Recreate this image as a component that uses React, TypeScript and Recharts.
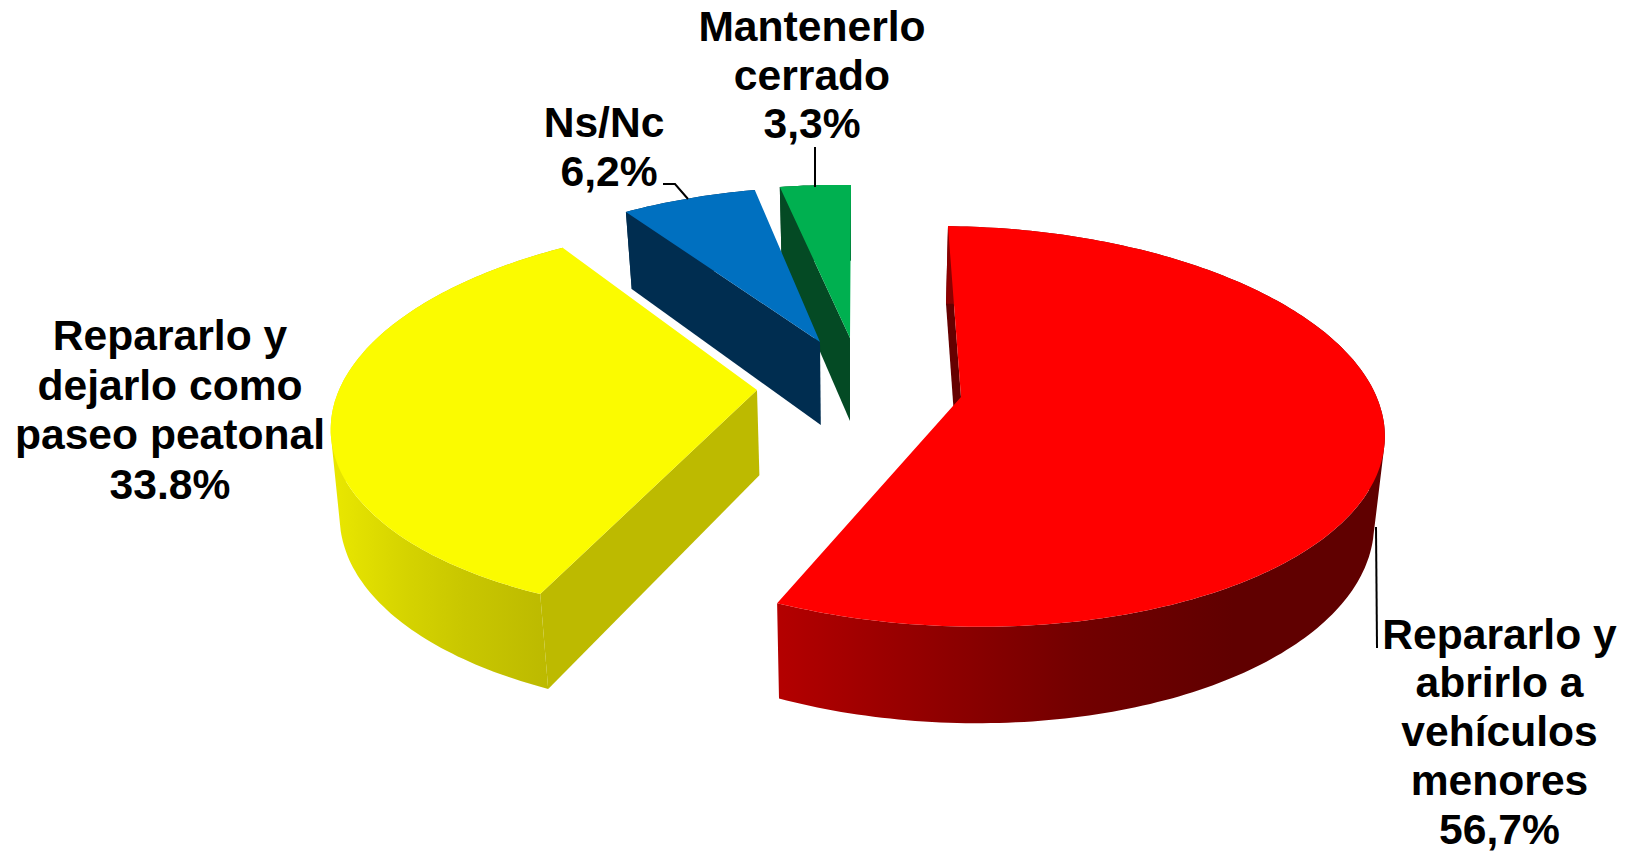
import React from "react";
import { PieChart, Pie } from "recharts";

// Slices run counter-clockwise from 12 o'clock, so that the paint order is green, blue, yellow, red.
const categories = ["Mantenerlo cerrado", "Ns/Nc", "Repararlo y dejarlo como paseo peatonal", "Repararlo y abrirlo a vehículos menores"];
const values = [3.3, 6.2, 33.8, 56.7];
const labelLines = [
  ["Mantenerlo", "cerrado", "3,3%"],
  ["Ns/Nc", "6,2%"],
  ["Repararlo y", "dejarlo como", "paseo peatonal", "33.8%"],
  ["Repararlo y", "abrirlo a", "vehículos", "menores", "56,7%"],
];
const faceColors = ["#00B050", "#0070C0", "#FBFB00", "#FF0000"];
const edgeColors = ["#044A24", "#002D50", "#BDBA00", "#650000"];
const wallStops: [number, string][][] = [
  [[0, "#044A24"], [1, "#044A24"]],
  [[0, "#002D50"], [1, "#002D50"]],
  [[0, "#EAE800"], [0.3, "#D6D400"], [0.55, "#C9C700"], [1, "#B9B600"]],
  [[0, "#B40000"], [0.2, "#980000"], [0.5, "#720000"], [0.75, "#600000"], [1, "#600000"]],
];

const W = 1627;
const H = 853;
const CX = 850;
const CY = 400;
const R = 420;
// apex offset from the pie centre (each exploded slice has its own)
const apexDX = [0, -30, -93, 111];
const apexDY = [-62, -58, -10, -3];
// disc-to-screen projection of every slice, in radius units
const persp = [
  { a: 395, b: -1.15, c: 3.7, d: 175.5 },
  { a: 396, b: -7.2, c: -3.9, d: 178.2 },
  { a: 414.1, b: -19.3, c: -0.7, d: 192.4 },
  { a: 421, b: 14.9, c: 3, d: 196 },
];
const PU = 0.01;
const PV = -0.147;
const DEPTH = 85.8;
const DEPTH_SLOPE = 0.047;
const CONVERGE_LEFT = 0.026;
const CONVERGE_LEFT_MAX = 9;
const CONVERGE_RIGHT = 0.02;
const labelAnchorX = [812, 604, 170, 1499.5];
const lineNudgeX = [[0, 0, 0], [0, 5], [0, 0, 0, 0], [0, 0, 0, 0, 0]];
const labelBaseY = [41, 136.5, 350, 648.5];
const labelLead = [48.5, 49.5, 49.5, 48.8];
const leaderPoints = ["815,147 815,187", "663,184 675,184 688,199", "", "1376,527 1377,648"];

const rows = categories.map((name, i) => ({ name, value: values[i], fill: faceColors[i], slice: i }));

type P = [number, number];
const project = (i: number, cx: number, cy: number, r: number, deg: number): P => {
  const t = (deg * Math.PI) / 180;
  const u = Math.cos(t);
  const v = -Math.sin(t);
  const w = 1 + PU * u + PV * v;
  const m = persp[i];
  const k = r / R;
  return [cx + apexDX[i] + (k * (m.a * u + m.b * v)) / w, cy + apexDY[i] + (k * (m.c * u + m.d * v)) / w];
};
const drop = (p: P, cx: number, cy: number): P => [
  p[0] + (p[0] < cx ? Math.min((cx - p[0]) * CONVERGE_LEFT, CONVERGE_LEFT_MAX) : (cx - p[0]) * CONVERGE_RIGHT),
  p[1] + DEPTH + DEPTH_SLOPE * (p[1] - cy),
];
const toPath = (pts: P[]) => "M" + pts.map((p) => p[0].toFixed(1) + " " + p[1].toFixed(1)).join("L") + "Z";
const signedArea = (q: P[]) =>
  q.reduce((s, p, k) => {
    const n = q[(k + 1) % q.length];
    return s + p[0] * n[1] - n[0] * p[1];
  }, 0);

const SliceShape = (props: any) => {
  const { cx, cy, outerRadius, startAngle, endAngle, payload, fill } = props;
  const i: number = payload?.slice ?? props.slice ?? 0;
  const n = Math.max(2, Math.ceil(Math.abs(endAngle - startAngle)));
  const arc: P[] = [];
  for (let s = 0; s <= n; s++) arc.push(project(i, cx, cy, outerRadius, startAngle + ((endAngle - startAngle) * s) / n));
  const apex: P = [cx + apexDX[i], cy + apexDY[i]];
  const low = arc.map((p) => drop(p, cx, cy));
  const xs = low.map((p) => p[0]).concat(arc.map((p) => p[0]));
  const x1 = Math.min(...xs);
  const x2 = Math.max(...xs);
  const id = "wall-" + i;
  const end = arc[arc.length - 1];
  // the wall is one path of same-wound quads, so its silhouette includes the tangent edges
  let wall = "";
  for (let s = 0; s < n; s++) {
    const q: P[] = [arc[s], arc[s + 1], low[s + 1], low[s]];
    wall += toPath(signedArea(q) < 0 ? q.slice().reverse() : q);
  }
  return (
    <g>
      <defs>
        <linearGradient id={id} gradientUnits="userSpaceOnUse" x1={x1} x2={x2} y1={0} y2={0}>
          {wallStops[i].map(([o, c], k) => (
            <stop key={k} offset={o} stopColor={c} />
          ))}
        </linearGradient>
      </defs>
      <path d={toPath([apex, end, drop(end, cx, cy), drop(apex, cx, cy)])} fill={edgeColors[i]} />
      <path d={wall} fill={`url(#${id})`} />
      <path d={toPath([apex, ...arc])} fill={fill} />
    </g>
  );
};

const SliceLabel = (props: any) => {
  const i: number = props.payload?.slice ?? props.slice ?? props.index;
  const dx = props.cx - CX;
  const dy = props.cy - CY;
  const leader = leaderPoints[i];
  return (
    <g transform={`translate(${dx},${dy})`}>
      {leader && <polyline points={leader} fill="none" stroke="#000" strokeWidth={2} />}
      <text
        textAnchor="middle"
        fontFamily="'Liberation Sans', Arial, sans-serif"
        fontWeight={700}
        fontSize={42.6}
        fill="#000"
      >
        {labelLines[i].map((t, k) => (
          <tspan key={k} x={labelAnchorX[i] + lineNudgeX[i][k]} y={labelBaseY[i] + k * labelLead[i]}>
            {t}
          </tspan>
        ))}
      </text>
    </g>
  );
};

export default function App() {
  const pieProps: any = {
    shape: SliceShape,
    inactiveShape: SliceShape,
    activeShape: SliceShape,
  };
  return (
    <div style={{ position: "absolute", left: 0, top: 0, width: W, height: H, background: "#fff", overflow: "hidden" }}>
      <PieChart width={W} height={H} margin={{ top: 0, right: 0, bottom: 0, left: 0 }}>
        <Pie
          data={rows}
          dataKey="value"
          nameKey="name"
          cx={CX}
          cy={CY}
          outerRadius={R}
          startAngle={90}
          endAngle={450}
          stroke="none"
          label={SliceLabel}
          labelLine={false}
          isAnimationActive={false}
          {...pieProps}
        />
      </PieChart>
    </div>
  );
}
